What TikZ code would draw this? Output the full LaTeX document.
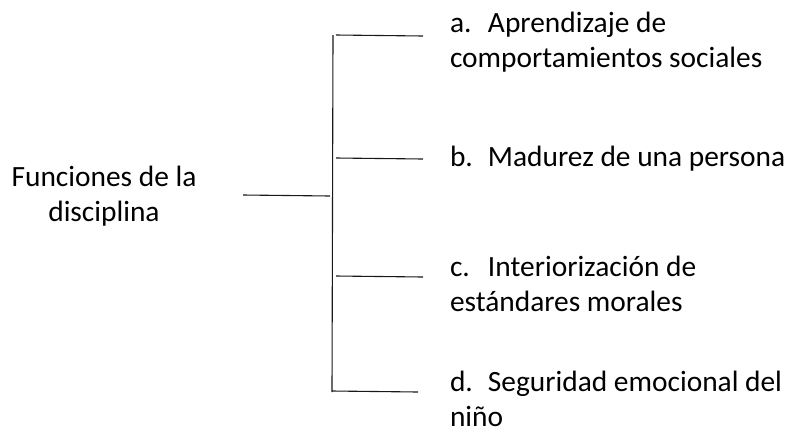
\documentclass[tikz,border=0pt]{standalone}
\usepackage{fontspec}
\setmainfont{Carlito}
\begin{document}
\begin{tikzpicture}[x=1pt,y=-1pt,
  lbl/.style={inner sep=0pt,outer sep=0pt,font=\fontsize{29.4}{35.5}\selectfont},
  item/.style={lbl,anchor=base west,align=left},
  link/.style={line width=1.1pt,black!90}]
\useasboundingbox (0,0) rectangle (787,432);
\newcommand{\itm}[1]{\makebox[38pt][l]{#1}}
% root (anchor base = baseline of last line)
\node[lbl,anchor=base,align=center] (root) at (104,221.5) {Funciones de la\\disciplina};
% items
\node[item] (a) at (450,67.5) {\itm{a.}Aprendizaje de\\comportamientos sociales};
\node[item] (b) at (450,166) {\itm{b.}Madurez de una persona};
\node[item] (c) at (450,311.5) {\itm{c.}Interiorización de\\estándares morales};
\node[item] (d) at (450,426.5) {\itm{d.}Seguridad emocional del\\niño};
% bracket coordinates
\coordinate (r0) at (243,195);
\coordinate (r1) at (330,196);
\coordinate (vt) at (333,35);
\coordinate (vb) at (332,392);
\coordinate (a0) at (336,35);  \coordinate (a1) at (423,36);
\coordinate (b0) at (336,158); \coordinate (b1) at (423,159);
\coordinate (c0) at (336,276); \coordinate (c1) at (423,277);
\coordinate (d0) at (332,391); \coordinate (d1) at (418,392);
\draw[link] (r0) -- (r1);
\draw[link] (vt) -- (vb);
\draw[link] (a0) -- (a1);
\draw[link] (b0) -- (b1);
\draw[link] (c0) -- (c1);
\draw[link] (d0) -- (d1);
\end{tikzpicture}
\end{document}
